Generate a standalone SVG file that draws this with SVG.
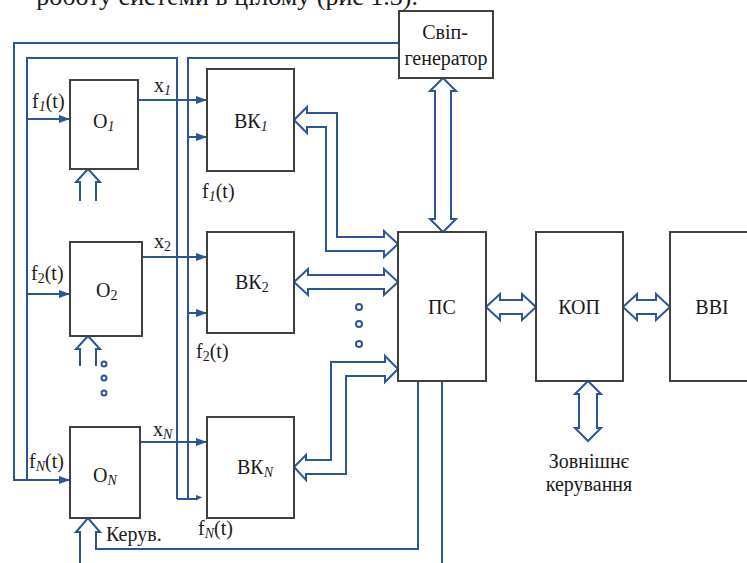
<svg xmlns="http://www.w3.org/2000/svg" width="747" height="563" viewBox="0 0 747 563" font-family="'Liberation Serif', serif">
<style>
.box{fill:#fff;stroke:#404040;stroke-width:2}
.ln{fill:none;stroke:#2b5597;stroke-width:2}
.hol{fill:#fff;stroke:#2b5597;stroke-width:2;stroke-linejoin:miter}
.dot{fill:#fff;stroke:#2b5597;stroke-width:2}
.t{font-family:'Liberation Serif',serif;font-size:20px;fill:#1a1a1a}
.s{font-size:14px;font-style:italic}
.s2{font-size:14px}
.m{text-anchor:middle}
</style>
<defs>
<marker id="ah" markerUnits="userSpaceOnUse" markerWidth="11" markerHeight="8" refX="11" refY="4" orient="auto">
<path d="M0,0 L11,4 L0,8 z" fill="#2b5597"/>
</marker>
</defs>
<text class="t" x="418" y="5" text-anchor="end" style="font-size:26px">роботу системи в цілому (рис 1.3).</text>

<g id="connectors">
<path class="ln" d="M399,43 H14 V480 H27"/>
<path class="ln" d="M177,499 V58 H27 V480"/>
<path class="ln" d="M399,58 H188 V499"/>
<path class="ln" d="M27,119 H70" marker-end="url(#ah)"/>
<path class="ln" d="M27,294 H70" marker-end="url(#ah)"/>
<path class="ln" d="M27,480 H70" marker-end="url(#ah)"/>
<path class="ln" d="M138,100 H207" marker-end="url(#ah)"/>
<path class="ln" d="M142,257 H207" marker-end="url(#ah)"/>
<path class="ln" d="M140,442 H207" marker-end="url(#ah)"/>
<path class="ln" d="M188,137 H207" marker-end="url(#ah)"/>
<path class="ln" d="M188,313 H207" marker-end="url(#ah)"/>
<path class="ln" d="M177,499 H207" marker-end="url(#ah)"/>
<path class="ln" d="M442,381 V563"/>
<path class="hol" d="M80,563 V532 H76 L88,518 L100,532 H96 V549 H418 V381"/>
<path class="hol" d="M80,201 V182 H76 L88,169 L100,182 H96 V201"/>
<path class="hol" d="M80,366 V349 H76 L88,336 L100,349 H96 V366"/>
<polygon class="hol" points="443,78 456,91 451,91 451,219 456,219 443,232 430,219 435,219 435,91 430,91"/>
<polygon class="hol" points="294,120 307,107 307,113 337,113 337,237 384,237 384,231 398,244 384,257 384,251 326,251 326,127 307,127 307,133"/>
<polygon class="hol" points="294,282 308,269 308,275 384,275 384,269 398,282 384,295 384,289 308,289 308,295"/>
<polygon class="hol" points="294,467 306,455 306,460 331,460 331,362 385,362 385,356 398,369 385,382 385,376 346,376 346,474 306,474 306,480"/>
<polygon class="hol" points="486,307 500,294 500,300 522,300 522,294 536,307 522,320 522,314 500,314 500,320"/>
<polygon class="hol" points="623,307 637,294 637,300 656,300 656,294 670,307 656,320 656,314 637,314 637,320"/>
<polygon class="hol" points="588,381 601,394 597,394 597,428 601,428 588,441 575,428 579,428 579,394 575,394"/>
<circle class="dot" cx="104" cy="364" r="2.5"/>
<circle class="dot" cx="104" cy="378" r="2.5"/>
<circle class="dot" cx="104" cy="393" r="2.5"/>
<circle class="dot" cx="359" cy="307" r="3"/>
<circle class="dot" cx="359" cy="324" r="3"/>
<circle class="dot" cx="359" cy="344" r="3"/>
</g>

<g id="O1">
<rect class="box" x="70" y="80" width="68" height="89"/>
<text class="t" x="93" y="128">O<tspan class="s" dy="3">1</tspan></text>
</g>
<g id="O2">
<rect class="box" x="70" y="242" width="72" height="94"/>
<text class="t" x="96" y="297">O<tspan class="s2" dy="3">2</tspan></text>
</g>
<g id="ON">
<rect class="box" x="70" y="427" width="70" height="91"/>
<text class="t" x="93" y="482">O<tspan class="s" dy="3">N</tspan></text>
</g>
<g id="BK1">
<rect class="box" x="207" y="69" width="87" height="102"/>
<text class="t" x="234" y="128">ВК<tspan class="s" dy="3">1</tspan></text>
</g>
<g id="BK2">
<rect class="box" x="207" y="232" width="87" height="101"/>
<text class="t" x="235" y="289">ВК<tspan class="s2" dy="3">2</tspan></text>
</g>
<g id="BKN">
<rect class="box" x="207" y="417" width="87" height="101"/>
<text class="t" x="237" y="474">ВК<tspan class="s" dy="3">N</tspan></text>
</g>
<g id="sweep">
<rect class="box" x="399" y="11" width="94" height="67"/>
<text class="t m" x="445" y="39">Свіп-</text>
<text class="t m" x="446" y="65">генератор</text>
</g>
<g id="PS">
<rect class="box" x="398" y="232" width="88" height="149"/>
<text class="t m" x="442" y="314">ПС</text>
</g>
<g id="KOP">
<rect class="box" x="536" y="232" width="87" height="149"/>
<text class="t m" x="579" y="314">КОП</text>
</g>
<g id="VVI">
<rect class="box" x="670" y="232" width="86" height="149"/>
<text class="t m" x="712" y="314">ВВІ</text>
</g>
<g id="labels">
<text class="t" x="154" y="92">x<tspan class="s" dy="3">1</tspan></text>
<text class="t" x="154" y="248">x<tspan class="s2" dy="3">2</tspan></text>
<text class="t" x="153" y="436">x<tspan class="s" dy="3">N</tspan></text>
<text class="t" x="32" y="108">f<tspan class="s" dy="3">1</tspan><tspan dy="-3">(t)</tspan></text>
<text class="t" x="31" y="280">f<tspan class="s2" dy="3">2</tspan><tspan dy="-3">(t)</tspan></text>
<text class="t" x="29" y="468">f<tspan class="s" dy="3">N</tspan><tspan dy="-3">(t)</tspan></text>
<text class="t" x="202" y="198">f<tspan class="s" dy="3">1</tspan><tspan dy="-3">(t)</tspan></text>
<text class="t" x="196" y="358">f<tspan class="s2" dy="3">2</tspan><tspan dy="-3">(t)</tspan></text>
<text class="t" x="198" y="535">f<tspan class="s" dy="3">N</tspan><tspan dy="-3">(t)</tspan></text>
<text class="t" x="106" y="541">Керув.</text>
<text class="t m" x="589" y="468">Зовнішнє</text>
<text class="t m" x="589" y="491">керування</text>
</g>
</svg>
